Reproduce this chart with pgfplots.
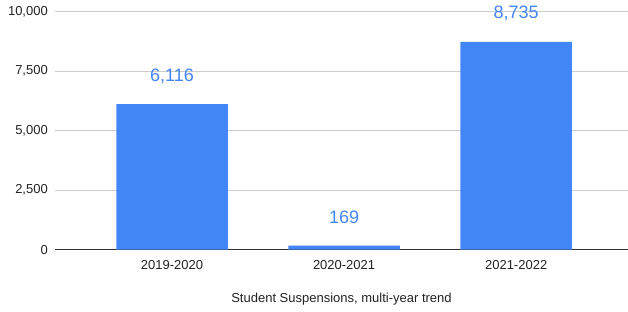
\documentclass[border=0pt]{standalone}
\usepackage{pgfplots}
\pgfplotsset{compat=1.18}
\usepackage{fontspec}
\setmainfont{Liberation Sans}
\definecolor{barblue}{HTML}{4285F4}
\definecolor{gridgray}{HTML}{CCCCCC}
\definecolor{axisgray}{HTML}{333333}
\definecolor{ticktext}{HTML}{222222}
\begin{document}
\begin{tikzpicture}
\path[use as bounding box] (-55pt,-61.3pt) rectangle (573pt,249.7pt);
\begin{axis}[
  scale only axis,
  width=573pt, height=238pt,
  xmin=-0.68, xmax=2.65,
  ymin=0, ymax=10000,
  ytick={0,2500,5000,7500,10000},
  xtick={0,1,2},
  xticklabels={2019-2020,2020-2021,2021-2022},
  axis x line*=bottom, axis y line*=left,
  x axis line style={draw=axisgray, line width=1pt, -},
  y axis line style={draw=none},
  major tick length=0pt,
  ymajorgrids=true, grid style={draw=gridgray, line width=0.8pt},
  /pgf/number format/assume math mode=true,
  /pgf/number format/1000 sep={,},
  scaled y ticks=false,
  yticklabel style={font=\fontsize{13}{15}\selectfont, text=ticktext, anchor=east, inner sep=0pt, xshift=-7pt},
  xticklabel style={font=\fontsize{13}{15}\selectfont, text=ticktext, anchor=center, inner sep=0pt, yshift=-15pt},
  xlabel={Student Suspensions, multi-year trend},
  xlabel style={at={(axis description cs:0.5,0)}, anchor=center, inner sep=0pt, yshift=-49pt, font=\fontsize{13}{15}\selectfont, text=ticktext},
  ybar, bar width=111.5pt, bar shift=0pt,
  nodes near coords,
  every node near coord/.append style={font=\fontsize{18}{20}\selectfont, text=barblue, anchor=center, inner sep=0pt, yshift=28pt},
]
\addplot[fill=barblue, draw=none] coordinates {(0,6116) (1,169) (2,8735)};
\end{axis}
\end{tikzpicture}
\end{document}
